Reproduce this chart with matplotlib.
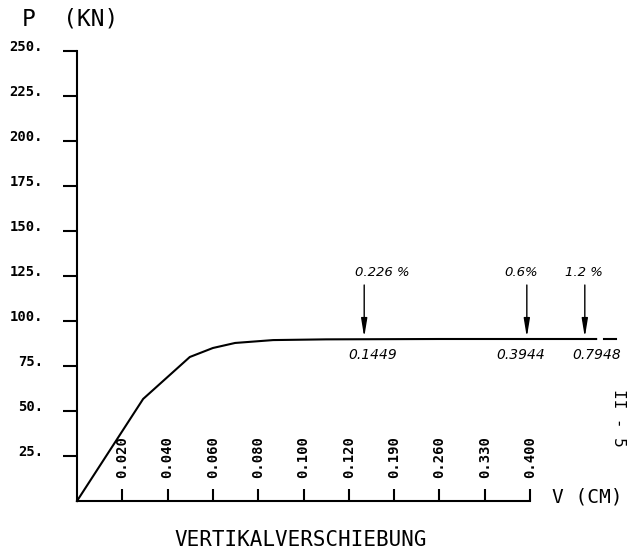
import matplotlib
matplotlib.use("Agg")
import matplotlib.pyplot as plt

# ---- data (x given as position along the tick scale) ----
tick_pos = [1, 2, 3, 4, 5, 6, 7, 8, 9, 10]
tick_labels = ['0.020', '0.040', '0.060', '0.080', '0.100', '0.120',
               '0.190', '0.260', '0.330', '0.400']
y_ticks = [25, 50, 75, 100, 125, 150, 175, 200, 225, 250]
y_tick_labels = ['25.', '50.', '75.', '100.', '125.', '150.', '175.',
                 '200.', '225.', '250.']

curve_x = [0, 1.46, 2.49, 3.0, 3.49, 4.33, 5.5, 8.0, 11.46]
curve_y = [0, 56.7, 80.0, 85.0, 87.8, 89.4, 89.8, 90.0, 90.0]
tail_x = [11.63, 11.9]
tail_y = [90.0, 90.0]

arrow_x = [6.34, 9.93, 11.21]
arrow_top = [120, 120, 120]
arrow_tip = [91, 91, 91]
top_labels = ['0.226 %', '0.6%', '1.2 %']
top_label_x = [6.73, 9.8, 11.2]
bottom_labels = ['0.1449', '0.3944', '0.7948']
bottom_label_x = [6.53, 9.8, 11.48]

# ---- figure ----
W, H = 636, 554
fig = plt.figure(figsize=(W / 100, H / 100), dpi=100)
ax = fig.add_axes([0, 0, 1, 1])
ax.set_facecolor('white')
px_per_x = 45.3
px_per_y = 1.8
x0_px, y0_px = 77, 501
ax.set_xlim(-x0_px / px_per_x, (W - x0_px) / px_per_x)
ax.set_ylim(-(H - y0_px) / px_per_y, y0_px / px_per_y)

mono = 'DejaVu Sans Mono'

for s in ['top', 'right']:
    ax.spines[s].set_visible(False)
ax.spines['left'].set_position(('data', 0))
ax.spines['bottom'].set_position(('data', 0))
ax.spines['left'].set_bounds(0, 250)
ax.spines['bottom'].set_bounds(0, 10)
ax.spines['left'].set_linewidth(1.5)
ax.spines['bottom'].set_linewidth(1.5)

ax.set_yticks(y_ticks, labels=y_tick_labels)
ax.tick_params(axis='y', direction='out', length=10, width=1.5, pad=14.5,
               labelsize=10)
for lab in ax.get_yticklabels():
    lab.set_family(mono)
    lab.set_fontweight('bold')
    lab.set_va('baseline')

ax.set_xticks(tick_pos, labels=[''] * len(tick_pos))
ax.tick_params(axis='x', direction='in', length=9, width=1.5, labelbottom=False)
for xp, lab in zip(tick_pos, tick_labels):
    ax.text(xp, 12.8, lab, rotation=90, ha='center', va='bottom',
            family=mono, fontweight='bold', fontsize=10)

# curve
ax.plot(curve_x, curve_y, color='black', lw=1.5, solid_joinstyle='miter')
ax.plot(tail_x, tail_y, color='black', lw=1.5)

# arrows and handwritten annotations
for xa, yt, yb in zip(arrow_x, arrow_top, arrow_tip):
    ax.annotate('', xy=(xa, yb), xytext=(xa, yt),
                arrowprops=dict(arrowstyle='-|>,head_length=1.1,head_width=0.18',
                                color='black', lw=1.0, shrinkA=0, shrinkB=0,
                                mutation_scale=10))
for xl, t in zip(top_label_x, top_labels):
    ax.text(xl, 127, t, ha='center', va='center', fontsize=9.5,
            style='italic', family='DejaVu Sans')
for xl, t in zip(bottom_label_x, bottom_labels):
    ax.text(xl, 81, t, ha='center', va='center', fontsize=10,
            style='italic', family='DejaVu Sans')

# texts
fig.text(22 / W, 1 - 19 / H, 'P  (KN)', ha='left', va='center',
         family=mono, fontsize=16.5)
fig.text(552 / W, 1 - 497 / H, 'V (CM)', ha='left', va='center',
         family=mono, fontsize=14)
fig.text(301 / W, 1 - 540 / H, 'VERTIKALVERSCHIEBUNG', ha='center',
         va='center', family=mono, fontsize=15)
fig.text(618 / W, 1 - 418 / H, 'II - 5', ha='center', va='center',
         rotation=-90, family=mono, fontsize=11.5)

fig.savefig('out.png', dpi=100, facecolor='white')
